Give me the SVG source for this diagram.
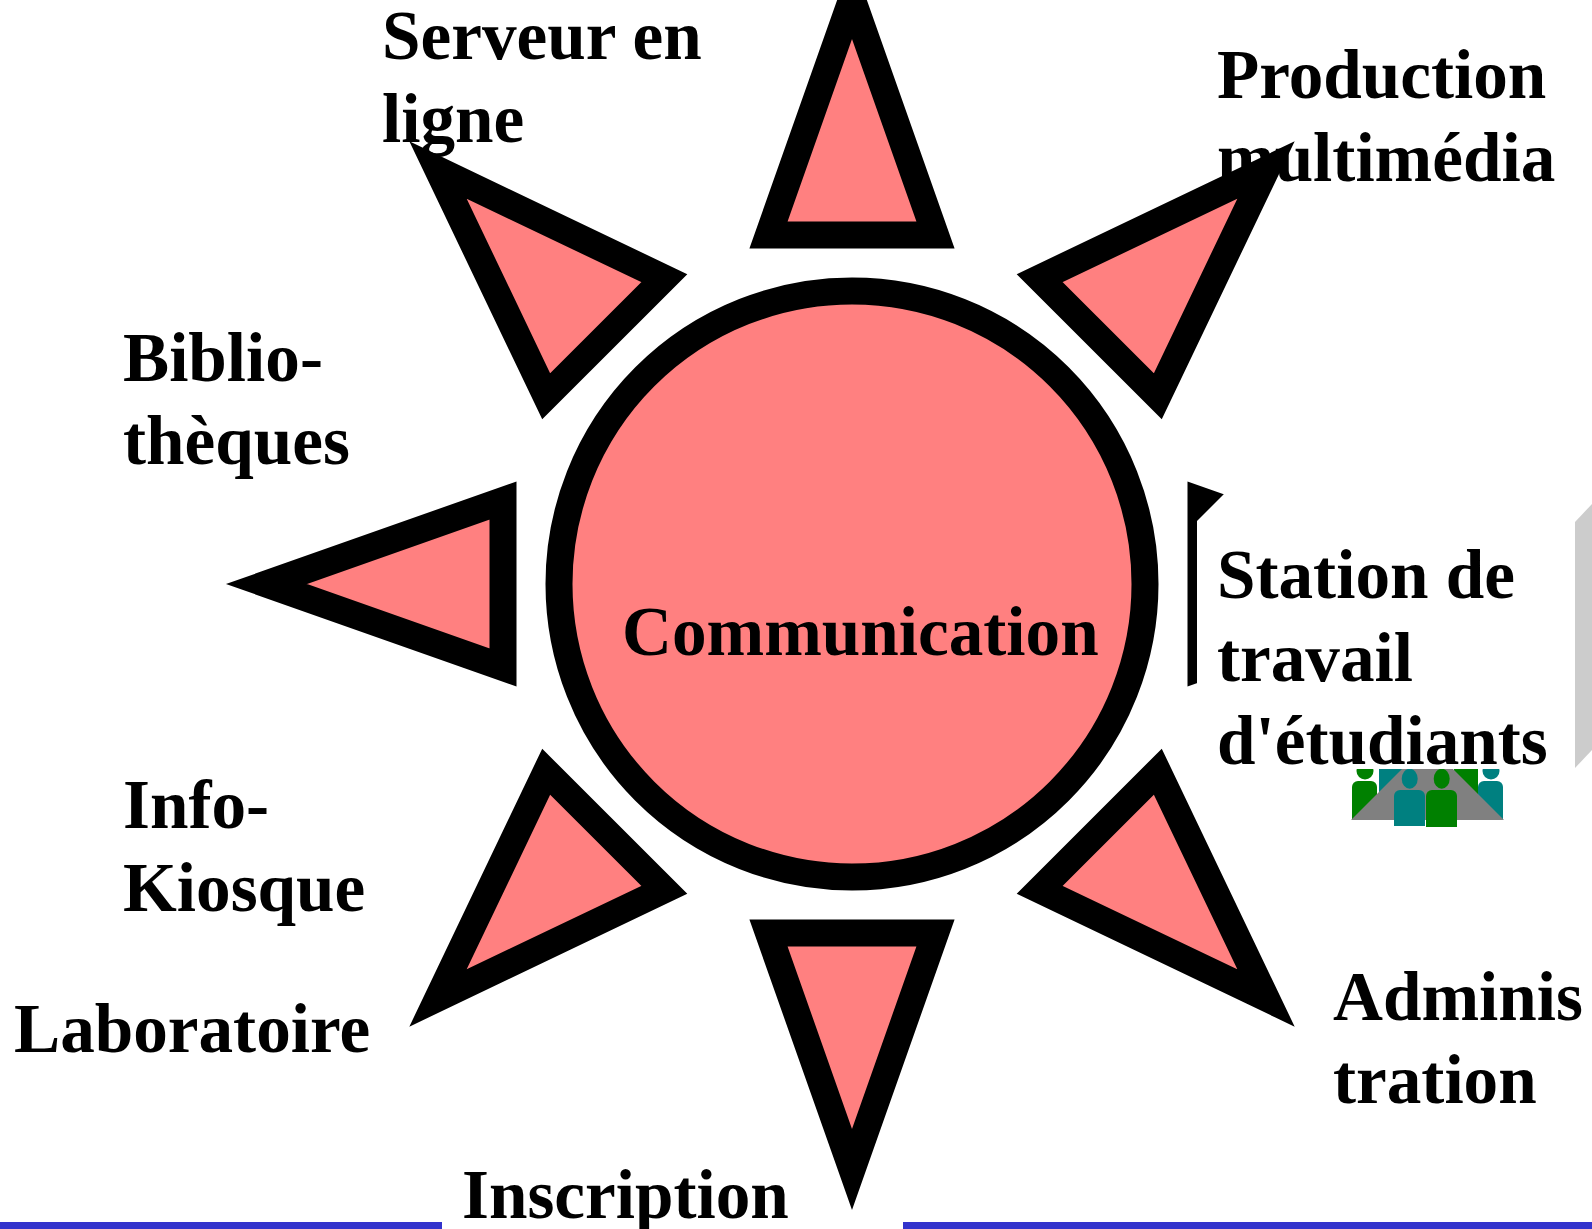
<svg xmlns="http://www.w3.org/2000/svg" width="1592" height="1229" viewBox="0 0 1592 1229">
<style>
text{font-family:"Liberation Serif","Times New Roman",serif;font-weight:bold;font-size:69.2px;fill:#000}
.ray,.sun{fill:#ff8080;stroke:#000;stroke-width:27;stroke-miterlimit:10}
.g{fill:#008000}.t{fill:#008080}
</style>
<defs>
<polygon id="ray" class="ray" points="768.5,933 935.5,933 852,1169.5"/>
<clipPath id="pc"><rect x="1340" y="769" width="170" height="60"/></clipPath>
</defs>
<rect width="1592" height="1229" fill="#fff"/>
<g id="serveur"><text x="382" y="59">Serveur en</text><text x="382" y="142">ligne</text></g>
<g id="production"><text x="1217" y="98">Production</text><text x="1217" y="181">multimédia</text></g>
<g id="rays">
<use id="ray-s" href="#ray"/>
<use id="ray-sw" href="#ray" transform="rotate(45 852 584)"/>
<use id="ray-w" href="#ray" transform="rotate(90 852 584)"/>
<use id="ray-nw" href="#ray" transform="rotate(135 852 584)"/>
<use id="ray-n" href="#ray" transform="rotate(180 852 584)"/>
<use id="ray-ne" href="#ray" transform="rotate(225 852 584)"/>
<use id="ray-e" href="#ray" transform="rotate(270 852 584)"/>
<use id="ray-se" href="#ray" transform="rotate(315 852 584)"/>
</g>
<g id="station-panel">
<polygon fill="#fff" points="1197,521 1225,493 1592,493 1592,772 1197,772"/>
<polygon fill="#ccc" points="1575,522 1592,504 1592,750 1575,768"/>
</g>
<g id="people" clip-path="url(#pc)">
<circle class="g" cx="1365" cy="771" r="8.5"/>
<path class="g" d="M1352,787a6,6 0 0 1 6,-6h13a6,6 0 0 1 6,6v33h-25z"/>
<rect class="t" x="1379" y="760" width="26" height="50"/>
<rect class="g" x="1454" y="760" width="24" height="50"/>
<circle class="t" cx="1491" cy="771" r="8.5"/>
<path class="t" d="M1478,787a6,6 0 0 1 6,-6h13a6,6 0 0 1 6,6v33h-25z"/>
<polygon fill="#808080" points="1351,820 1402,769 1453,769 1504,820"/>
<ellipse class="t" cx="1409.7" cy="778.7" rx="8" ry="10"/>
<path class="t" d="M1394,796a6,6 0 0 1 6,-6h19a6,6 0 0 1 6,6v30h-31z"/>
<ellipse class="g" cx="1441.7" cy="778.7" rx="8" ry="10"/>
<path class="g" d="M1426,796a6,6 0 0 1 6,-6h19a6,6 0 0 1 6,6v31h-31z"/>
</g>
<g id="communication"><circle class="sun" cx="852" cy="584" r="293"/><text x="622" y="655">Communication</text></g>
<g id="station"><text x="1217" y="598">Station de</text><text x="1217" y="681">travail</text><text x="1217" y="764">d'étudiants</text></g>
<g id="biblio"><text x="123" y="381">Biblio-</text><text x="123" y="464">thèques</text></g>
<g id="kiosque"><text x="123" y="828">Info-</text><text x="123" y="911">Kiosque</text></g>
<g id="laboratoire"><text x="14" y="1052">Laboratoire</text></g>
<g id="administration"><text x="1333" y="1020">Adminis</text><text x="1333" y="1103">tration</text></g>
<g id="footer"><rect x="0" y="1222" width="442" height="7" fill="#3333cc"/><rect x="903" y="1222" width="689" height="7" fill="#3333cc"/></g>
<g id="inscription"><text x="462" y="1218">Inscription</text></g>
</svg>
